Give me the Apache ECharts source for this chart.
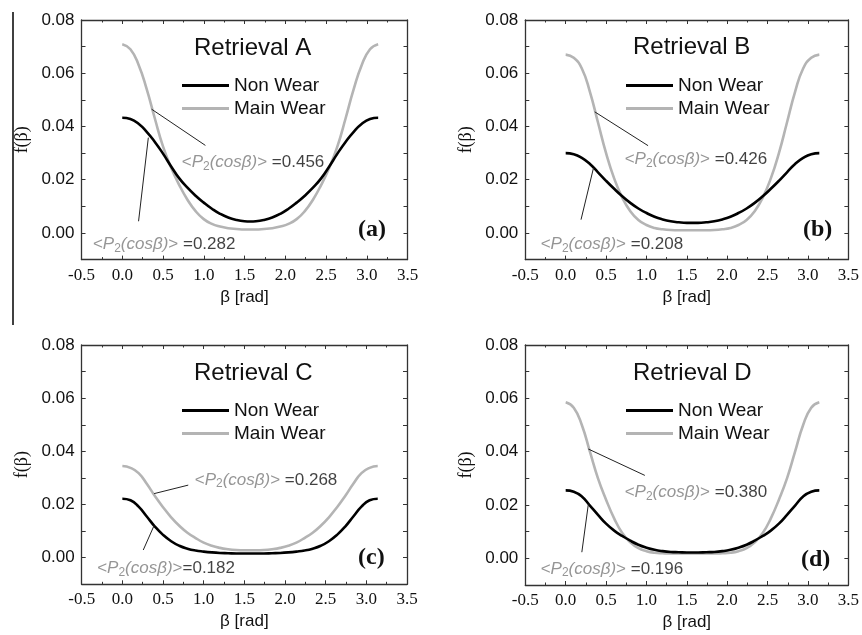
<!DOCTYPE html>
<html>
<head>
<meta charset="utf-8">
<script src="https://cdn.jsdelivr.net/npm/echarts@6/dist/echarts.min.js"></script>
<style>
html, body { margin: 0; padding: 0; background: #fff; }
#chart { width: 862px; height: 635px; }
</style>
</head>
<body>
<div id="chart"></div>
<script>
// beta sample points (rad), symmetric about pi/2
const beta = [0, 0.1, 0.2, 0.3, 0.4, 0.5, 0.6, 0.7, 0.8, 0.9, 1.0, 1.1, 1.2, 1.3, 1.4, 1.5, 1.57,
  1.64, 1.74, 1.84, 1.94, 2.04, 2.14, 2.24, 2.34, 2.44, 2.54, 2.64, 2.74, 2.84, 2.94, 3.04, 3.14];

// f(beta)
const nonWearA = [0.0433,0.0428,0.0410,0.0380,0.0342,0.0298,0.0250,0.0205,0.0170,0.0140,0.0114,0.0091,0.0072,0.0058,0.0049,0.0044,0.0043,0.0044,0.0049,0.0058,0.0072,0.0091,0.0114,0.0140,0.0170,0.0205,0.0250,0.0298,0.0342,0.0380,0.0410,0.0428,0.0433];
const mainWearA = [0.0709,0.0690,0.0632,0.0540,0.0430,0.0325,0.0245,0.0180,0.0125,0.0082,0.0052,0.0034,0.0024,0.0018,0.0015,0.0013,0.0013,0.0013,0.0015,0.0018,0.0024,0.0034,0.0052,0.0082,0.0125,0.0180,0.0245,0.0325,0.0430,0.0540,0.0632,0.0690,0.0709];
const nonWearB = [0.0300,0.0296,0.0282,0.0259,0.0228,0.0196,0.0166,0.0138,0.0113,0.0092,0.0075,0.0061,0.0051,0.0044,0.0040,0.0038,0.0038,0.0038,0.0040,0.0044,0.0051,0.0061,0.0075,0.0092,0.0113,0.0138,0.0166,0.0196,0.0228,0.0259,0.0282,0.0296,0.0300];
const mainWearB = [0.0670,0.0658,0.0618,0.0530,0.0415,0.0300,0.0205,0.0133,0.0082,0.0049,0.0030,0.0019,0.0014,0.0011,0.0010,0.0010,0.0010,0.0010,0.0010,0.0011,0.0014,0.0019,0.0030,0.0049,0.0082,0.0133,0.0205,0.0300,0.0415,0.0530,0.0618,0.0658,0.0670];
const nonWearC = [0.0222,0.0216,0.0192,0.0155,0.0117,0.0086,0.0062,0.0045,0.0034,0.0027,0.0023,0.0020,0.0018,0.0017,0.0016,0.0016,0.0016,0.0016,0.0016,0.0017,0.0018,0.0020,0.0023,0.0027,0.0034,0.0045,0.0062,0.0086,0.0117,0.0155,0.0192,0.0216,0.0222];
const mainWearC = [0.0345,0.0338,0.0318,0.0278,0.0232,0.0190,0.0152,0.0120,0.0094,0.0074,0.0057,0.0045,0.0037,0.0032,0.0029,0.0028,0.0028,0.0028,0.0029,0.0032,0.0037,0.0045,0.0057,0.0074,0.0094,0.0120,0.0152,0.0190,0.0232,0.0278,0.0318,0.0338,0.0345];
const nonWearD = [0.0255,0.0250,0.0232,0.0198,0.0163,0.0130,0.0104,0.0084,0.0066,0.0051,0.0040,0.0032,0.0027,0.0024,0.0023,0.0022,0.0022,0.0022,0.0023,0.0024,0.0027,0.0032,0.0040,0.0051,0.0066,0.0084,0.0104,0.0130,0.0163,0.0198,0.0232,0.0250,0.0255];
const mainWearD = [0.0585,0.0565,0.0500,0.0400,0.0300,0.0220,0.0150,0.0095,0.0060,0.0038,0.0027,0.0021,0.0019,0.0018,0.0018,0.0018,0.0018,0.0018,0.0018,0.0018,0.0019,0.0021,0.0027,0.0038,0.0060,0.0095,0.0150,0.0220,0.0300,0.0400,0.0500,0.0565,0.0585];

const retrievals = ['Retrieval A', 'Retrieval B', 'Retrieval C', 'Retrieval D'];
const tags = ['(a)', '(b)', '(c)', '(d)'];
const p2Main = ['0.456', '0.426', '0.268', '0.380'];
const p2Non = ['0.282', '0.208', '0.182', '0.196'];
const xTicks = [-0.5, 0, 0.5, 1, 1.5, 2, 2.5, 3, 3.5];
const yLabels = [0, 0.02, 0.04, 0.06, 0.08];

const nonWear = [nonWearA, nonWearB, nonWearC, nonWearD];
const mainWear = [mainWearA, mainWearB, mainWearC, mainWearD];

// layout of each panel (pixels) and the annotation leaders (data units)
const layout = [
  { grid: { left: 81.5, top: 20, width: 326, height: 239.6 }, title: [194, 36], tag: [358, 218], legend: [182, 76],
    mainLead: [[0.36, 0.0465], [1.02, 0.0329]], mainAt: [0.73, 0.0264],
    nonLead: [[0.32, 0.0358], [0.20, 0.0044]], nonAt: [-0.36, -0.0044] },
  { grid: { left: 525.3, top: 20, width: 326.4, height: 239.6 }, title: [633, 35], tag: [803, 218], legend: [626, 76],
    mainLead: [[0.36, 0.0455], [1.02, 0.0328]], mainAt: [0.73, 0.0276],
    nonLead: [[0.344, 0.0244], [0.19, 0.0050]], nonAt: [-0.31, -0.0044] },
  { grid: { left: 81.7, top: 345, width: 325.3, height: 239.3 }, title: [194, 361], tag: [358, 546], legend: [182, 401],
    mainLead: [[0.39, 0.0241], [0.81, 0.0273]], mainAt: [0.89, 0.0292],
    nonLead: [[0.39, 0.0121], [0.257, 0.0029]], nonAt: [-0.31, -0.0040] },
  { grid: { left: 525.3, top: 345, width: 326.4, height: 240 }, title: [633, 361], tag: [801, 548], legend: [626, 401],
    mainLead: [[0.28, 0.0410], [0.98, 0.0311]], mainAt: [0.73, 0.0248],
    nonLead: [[0.28, 0.0202], [0.20, 0.0023]], nonAt: [-0.31, -0.0040] }
];

const axisColor = '#333';
const grayLine = '#b4b4b4';
const sans = 'Liberation Sans';
const serif = 'Liberation Serif';

const richP2 = {
  g: { color: '#7a7a7a', fontFamily: sans, fontSize: 17, lineHeight: 20 },
  gi: { color: '#7a7a7a', fontFamily: sans, fontSize: 17, fontStyle: 'italic', lineHeight: 20 },
  sub: { color: '#7a7a7a', fontFamily: sans, fontSize: 12, lineHeight: 10, verticalAlign: 'bottom' },
  k: { color: '#111', fontFamily: sans, fontSize: 17, lineHeight: 20 }
};
function p2Text(v, gap) {
  return '{g|<}{gi|P}{sub|2}{gi|(cosβ)}{g|>}{k|' + gap + '=' + v + '}';
}

let grids = [], xAxes = [], yAxes = [], series = [], titles = [], legends = [];

layout.forEach((L, i) => {
  grids.push(Object.assign({}, L.grid, { containLabel: false }));

  const xBase = {
    gridIndex: i, type: 'value', min: -0.5, max: 3.5, interval: 0.5,
    axisLine: { onZero: false, lineStyle: { color: axisColor, width: 1.3 } },
    axisTick: { inside: true, length: 4, lineStyle: { color: axisColor } },
    minorTick: { show: true, splitNumber: 2, length: 2.5, lineStyle: { color: axisColor } },
    splitLine: { show: false }
  };
  xAxes.push(Object.assign({}, xBase, {
    position: 'bottom',
    axisLabel: { fontFamily: serif, fontSize: 17, color: '#111', margin: 7,
      formatter: v => xTicks.some(t => Math.abs(t - v) < 1e-6) ? v.toFixed(1) : '' },
    name: 'β [rad]', nameLocation: 'middle', nameGap: 29,
    nameTextStyle: { fontFamily: sans, fontSize: 17, color: '#111' }
  }));
  xAxes.push(Object.assign({}, xBase, { position: 'top', axisLabel: { show: false } }));

  const yBase = {
    gridIndex: i, type: 'value', min: -0.01, max: 0.08, interval: 0.01,
    axisLine: { show: true, onZero: false, lineStyle: { color: axisColor, width: 1.3 } },
    axisTick: { show: true, inside: true, length: 4, lineStyle: { color: axisColor } },
    splitLine: { show: false }
  };
  yAxes.push(Object.assign({}, yBase, {
    position: 'left',
    axisLabel: { fontFamily: sans, fontSize: 17, color: '#111', margin: 7,
      formatter: v => yLabels.some(t => Math.abs(t - v) < 1e-6) ? v.toFixed(2) : '' },
    name: 'f(β)', nameLocation: 'middle', nameGap: 50, nameRotate: 90,
    nameTextStyle: { fontFamily: serif, fontSize: 18, color: '#111' }
  }));
  yAxes.push(Object.assign({}, yBase, { position: 'right', axisLabel: { show: false } }));

  series.push({
    type: 'line', name: 'Main Wear', xAxisIndex: 2 * i, yAxisIndex: 2 * i,
    data: beta.map((b, k) => [b, mainWear[i][k]]),
    smooth: true, showSymbol: false, symbol: 'none',
    lineStyle: { color: grayLine, width: 2.6 }, itemStyle: { color: grayLine }
  });
  series.push({
    type: 'line', name: 'Non Wear', xAxisIndex: 2 * i, yAxisIndex: 2 * i,
    data: beta.map((b, k) => [b, nonWear[i][k]]),
    smooth: true, showSymbol: false, symbol: 'none',
    lineStyle: { color: '#000', width: 2.6 }, itemStyle: { color: '#000' }
  });

  // leader lines
  [L.mainLead, L.nonLead].forEach(lead => {
    series.push({
      type: 'line', xAxisIndex: 2 * i, yAxisIndex: 2 * i, data: lead,
      symbol: 'none', silent: true, z: 3,
      lineStyle: { color: '#222', width: 1 }
    });
  });

  // <P2(cos b)> labels
  [[L.mainAt, p2Main[i], ' '], [L.nonAt, p2Non[i], i === 2 ? '' : ' ']].forEach(([at, v, gap]) => {
    series.push({
      type: 'scatter', xAxisIndex: 2 * i, yAxisIndex: 2 * i, data: [at],
      symbolSize: 0, silent: true, z: 4,
      label: { show: true, position: 'right', distance: 0, formatter: p2Text(v, gap), rich: richP2 }
    });
  });

  titles.push({
    text: retrievals[i], left: L.title[0], top: L.title[1], padding: 0,
    textStyle: { fontFamily: sans, fontSize: 24, fontWeight: 'normal', color: '#111' }
  });
  titles.push({
    text: tags[i], left: L.tag[0], top: L.tag[1], padding: 0,
    textStyle: { fontFamily: serif, fontSize: 24, fontWeight: 'bold', color: '#111' }
  });

  legends.push({
    data: ['Non Wear', 'Main Wear'], orient: 'vertical', left: L.legend[0], top: L.legend[1],
    padding: 0, icon: 'rect', itemWidth: 47, itemHeight: 3, itemGap: 4, selectedMode: false,
    textStyle: { fontFamily: sans, fontSize: 19, color: '#111', lineHeight: 18 }
  });
});

const myChart = echarts.init(document.getElementById('chart'), null, { renderer: 'canvas' });
myChart.setOption({
  animation: false,
  backgroundColor: '#fff',
  title: titles,
  legend: legends,
  grid: grids,
  xAxis: xAxes,
  yAxis: yAxes,
  series: series,
  graphic: [{
    type: 'line', shape: { x1: 13, y1: 12, x2: 13, y2: 325 },
    style: { stroke: '#000', lineWidth: 1.5 }, silent: true
  }]
});
window.addEventListener('resize', () => myChart.resize());
</script>
</body>
</html>
